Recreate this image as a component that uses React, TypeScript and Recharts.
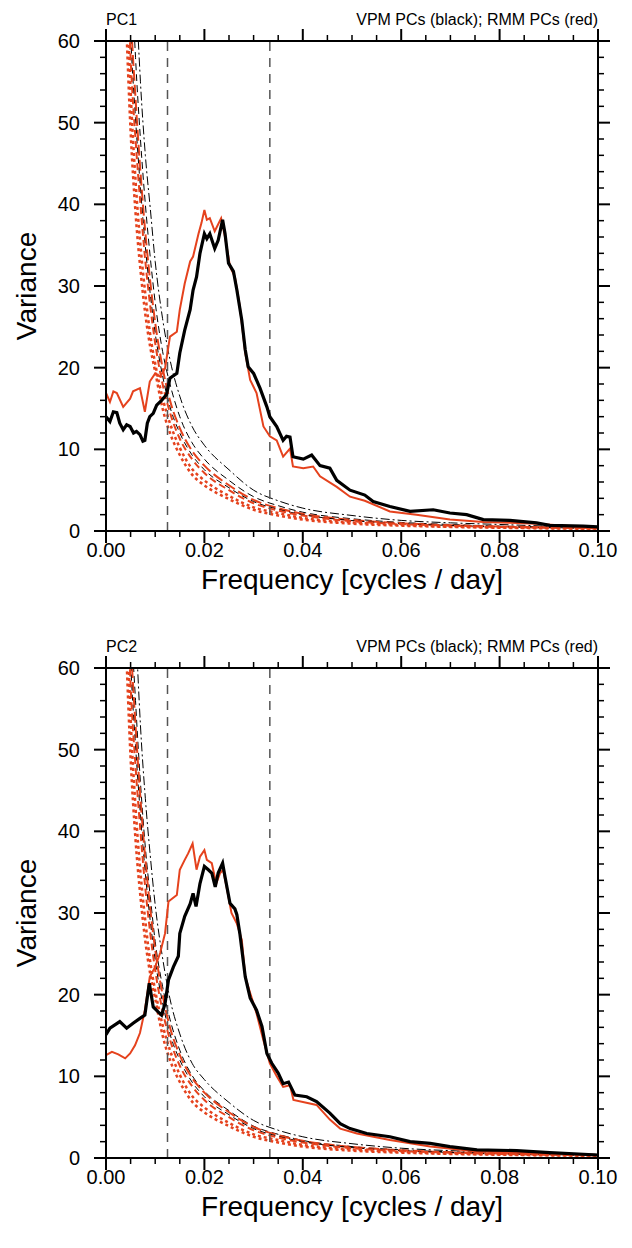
import { LineChart, Line, XAxis, YAxis, ReferenceLine } from 'recharts';

const FONT = '"Liberation Sans", Arial, Helvetica, sans-serif';
const RED = '#e5421d';

// axis ticks
const X_TICKS = [0, 0.005, 0.01, 0.015, 0.02, 0.025, 0.03, 0.035, 0.04, 0.045, 0.05,
  0.055, 0.06, 0.065, 0.07, 0.075, 0.08, 0.085, 0.09, 0.095, 0.1];
const Y_TICKS = [0, 2, 4, 6, 8, 10, 12, 14, 16, 18, 20, 22, 24, 26, 28, 30, 32, 34, 36, 38,
  40, 42, 44, 46, 48, 50, 52, 54, 56, 58, 60];
const PERIOD_LINES = [0.0125, 0.0333]; // 80 and 30 days

// red-noise / confidence curves
const NOISE_F = [0.004, 0.005, 0.006, 0.007, 0.008, 0.009, 0.01, 0.0115, 0.013, 0.015, 0.0175,
  0.02, 0.025, 0.03, 0.035, 0.04, 0.05, 0.06, 0.07, 0.08, 0.09, 0.1];
const UPPER_BLACK_1 = [110, 86, 68, 55, 46, 39.5, 33, 26, 21, 16.5, 12.8, 10.5, 7.5, 5.0, 3.7, 2.8, 1.9, 1.3, 1.0, 0.8, 0.6, 0.5];
const MARKOV_BLACK_1 = [95, 72, 58, 48, 40, 33.5, 28, 22, 18, 14, 10.8, 8.8, 6.2, 4.2, 3.1, 2.3, 1.5, 1.05, 0.8, 0.6, 0.5, 0.4];
const UPPER_BLACK_2 = [105, 82, 66, 53, 44, 37, 31, 24.5, 19.5, 15.2, 11.6, 9.6, 6.8, 4.6, 3.4, 2.6, 1.75, 1.2, 0.9, 0.72, 0.56, 0.45];
const MARKOV_BLACK_2 = [90, 68, 56, 46, 38, 32, 26.5, 21, 17, 13.2, 10.1, 8.2, 5.8, 3.9, 2.9, 2.15, 1.4, 1.0, 0.75, 0.58, 0.46, 0.37];
const UPPER_RED = [84, 64, 53, 44, 36.5, 30.5, 25.5, 20, 16, 12.6, 9.8, 8.0, 5.6, 3.8, 2.8, 2.1, 1.35, 0.95, 0.7, 0.55, 0.45, 0.35];
const LOWER_BLACK = [80, 61, 50.5, 42, 34.8, 29, 24.2, 19, 15.2, 12, 9.3, 7.5, 5.3, 3.6, 2.65, 2.0, 1.28, 0.9, 0.68, 0.52, 0.42, 0.33];
const MARKOV_RED = [76, 58, 48, 40, 33, 27.5, 23, 18, 14.5, 11.3, 8.8, 7.1, 5.0, 3.4, 2.5, 1.9, 1.2, 0.85, 0.65, 0.5, 0.4, 0.32];
const LOWER_RED_A = [72, 54, 43, 35, 29, 24, 20.5, 16.3, 13.2, 10.2, 7.6, 6.2, 4.3, 2.9, 2.2, 1.6, 1.05, 0.75, 0.55, 0.45, 0.36, 0.3];
const LOWER_RED_B = [64, 49, 39, 32, 26.5, 22.5, 19.5, 15, 12, 9.3, 6.9, 5.6, 3.9, 2.6, 1.9, 1.4, 0.9, 0.65, 0.5, 0.4, 0.32, 0.26];

// PC1 spectra
const PC1_VPM_F = [0, 0.0008, 0.0015, 0.0022, 0.0028, 0.0035, 0.0042, 0.0049, 0.0056, 0.0062, 0.0069,
  0.0075, 0.0079, 0.0084, 0.0089, 0.0096, 0.0103, 0.0113, 0.0123, 0.013, 0.0144, 0.015, 0.016,
  0.0171, 0.0177, 0.0184, 0.0191, 0.02, 0.0205, 0.0211, 0.0221, 0.0228, 0.0237, 0.0242, 0.0249,
  0.0259, 0.0266, 0.0276, 0.0283, 0.0289, 0.03, 0.0313, 0.0327, 0.0333, 0.0347, 0.036, 0.0367,
  0.0374, 0.038, 0.0401, 0.0418, 0.0435, 0.0455, 0.0469, 0.0496, 0.0526, 0.0543, 0.0577, 0.0618,
  0.0665, 0.0699, 0.0733, 0.0767, 0.0821, 0.0875, 0.0902, 0.097, 0.1];
const PC1_VPM = [14.0, 13.4, 14.6, 14.5, 13.2, 12.4, 13.0, 12.8, 12.0, 12.2, 11.8,
  11.0, 11.1, 13.2, 14.0, 14.4, 15.4, 16.0, 16.7, 18.7, 19.3, 21.8, 24.6,
  27.1, 29.5, 31.1, 34.0, 36.4, 35.8, 36.4, 34.6, 35.6, 38.1, 36.4, 32.8,
  31.8, 29.5, 25.8, 22.2, 20.1, 19.3, 17.5, 15.2, 14.0, 12.8, 11.1, 11.6,
  11.5, 9.1, 8.8, 9.3, 8.0, 7.7, 6.2, 5.0, 4.4, 3.6, 3.0, 2.4,
  2.6, 2.2, 2.0, 1.4, 1.3, 1.0, 0.7, 0.6, 0.5];
const PC1_RMM_F = [0, 0.0008, 0.0015, 0.0022, 0.0035, 0.0049, 0.0055, 0.0069, 0.0079, 0.0089, 0.01,
  0.011, 0.012, 0.013, 0.0144, 0.015, 0.016, 0.0171, 0.0177, 0.0188, 0.0194, 0.02, 0.0205, 0.0211,
  0.0221, 0.0234, 0.0242, 0.0252, 0.0262, 0.0272, 0.0283, 0.0293, 0.0306, 0.032, 0.0333, 0.0347,
  0.036, 0.0374, 0.038, 0.0401, 0.0421, 0.0435, 0.0469, 0.0496, 0.0526, 0.0577, 0.0631, 0.0699,
  0.0767, 0.0821, 0.0875, 0.097, 0.1];
const PC1_RMM = [16.9, 15.8, 17.1, 16.9, 15.2, 16.2, 17.1, 17.5, 14.6, 18.3, 19.3,
  18.9, 19.9, 23.8, 24.4, 27.1, 30.3, 33.0, 33.6, 36.4, 37.7, 39.3, 38.1, 38.3,
  36.7, 38.3, 36.0, 32.4, 31.1, 27.5, 21.8, 18.5, 16.9, 12.8, 11.6, 11.1,
  9.1, 10.1, 7.9, 7.7, 7.9, 6.7, 5.4, 4.2, 3.7, 2.4, 2.0, 1.4,
  1.1, 1.0, 0.9, 0.5, 0.45];

// PC2 spectra
const PC2_VPM_F = [0, 0.0008, 0.0018, 0.0028, 0.0042, 0.0055, 0.0069, 0.0079, 0.0088, 0.0096, 0.0106,
  0.0113, 0.012, 0.0127, 0.0137, 0.0147, 0.015, 0.016, 0.0171, 0.0177, 0.0183, 0.0191, 0.02,
  0.0208, 0.0215, 0.0222, 0.0228, 0.0237, 0.0242, 0.0252, 0.0262, 0.0266, 0.0272, 0.0283, 0.0293,
  0.0306, 0.0317, 0.0327, 0.0337, 0.035, 0.036, 0.0371, 0.0384, 0.0408, 0.0428, 0.0455, 0.0476,
  0.0496, 0.053, 0.0577, 0.0618, 0.0659, 0.0699, 0.0754, 0.0835, 0.0902, 0.1];
const PC2_VPM = [15.1, 15.9, 16.3, 16.7, 15.9, 16.5, 17.1, 17.5, 21.4, 18.5, 17.9,
  17.5, 18.9, 21.8, 23.4, 24.7, 27.5, 29.6, 31.1, 32.4, 30.8, 33.6, 35.7,
  35.3, 34.9, 33.2, 34.9, 36.1, 34.4, 31.2, 30.5, 29.8, 27.5, 22.2, 19.6,
  18.1, 16.1, 12.8, 11.6, 10.4, 9.1, 9.3, 7.7, 7.5, 6.9, 5.5, 4.2,
  3.6, 3.0, 2.6, 2.0, 1.8, 1.4, 1.0, 0.9, 0.65, 0.37];
const PC2_RMM_F = [0, 0.0012, 0.0025, 0.0039, 0.0049, 0.0059, 0.0069, 0.0079, 0.0089, 0.01, 0.011,
  0.012, 0.0127, 0.0144, 0.015, 0.016, 0.0167, 0.0176, 0.0184, 0.0191, 0.02, 0.0205, 0.0215,
  0.0224, 0.0232, 0.0238, 0.0245, 0.0255, 0.0266, 0.0276, 0.0283, 0.0293, 0.0306, 0.032, 0.0333,
  0.0347, 0.036, 0.0374, 0.0381, 0.0428, 0.0455, 0.0476, 0.051, 0.0577, 0.0659, 0.0754, 0.0848, 0.1];
const PC2_RMM = [12.6, 13.0, 12.7, 12.2, 12.8, 13.8, 15.3, 18.1, 22.2, 23.4, 25.1,
  27.5, 31.4, 32.2, 35.3, 36.5, 37.3, 38.5, 35.3, 36.9, 37.7, 36.5, 36.1,
  33.6, 34.9, 35.3, 33.2, 30.0, 28.7, 26.7, 22.2, 20.2, 17.7, 14.4, 11.6,
  10.0, 8.7, 8.9, 7.1, 6.5, 4.7, 3.6, 3.0, 2.2, 1.4, 0.8, 0.65, 0.37];

const pts = (fs: number[], vs: number[]) => fs.map((f, i) => ({ f, v: vs[i] }));

const isMajorX = (v: number) => Math.round(v * 1000) % 20 === 0;
const isMajorY = (v: number) => Math.round(v) % 10 === 0;

function BottomTick({ x, y, payload }: any) {
  const major = isMajorX(payload.value);
  return (
    <g>
      <line x1={x} y1={y} x2={x} y2={y + (major ? 12 : 6)} stroke="#000" strokeWidth={major ? 2 : 1.5} />
      {major && (
        <text x={x} y={y + 26} textAnchor="middle" fontSize={20} fill="#000">
          {payload.value.toFixed(2)}
        </text>
      )}
    </g>
  );
}

function TopTick({ x, y, payload }: any) {
  const major = isMajorX(payload.value);
  return <line x1={x} y1={y} x2={x} y2={y - (major ? 12 : 6)} stroke="#000" strokeWidth={major ? 2 : 1.5} />;
}

function LeftTick({ x, y, payload }: any) {
  const major = isMajorY(payload.value);
  return (
    <g>
      <line x1={x} y1={y} x2={x - (major ? 12 : 6)} y2={y} stroke="#000" strokeWidth={major ? 2 : 1.5} />
      {major && (
        <text x={x - 26} y={y + 7} textAnchor="end" fontSize={20} fill="#000">
          {payload.value}
        </text>
      )}
    </g>
  );
}

function RightTick({ x, y, payload }: any) {
  const major = isMajorY(payload.value);
  return <line x1={x} y1={y} x2={x + (major ? 12 : 6)} y2={y} stroke="#000" strokeWidth={major ? 2 : 1.5} />;
}

interface PanelProps {
  top: number;
  name: string;
  vpm: { f: number; v: number }[];
  rmm: { f: number; v: number }[];
  upperBlack: number[];
  markovBlack: number[];
}

function Panel({ top, name, vpm, rmm, upperBlack, markovBlack }: PanelProps) {
  const topH = top === 0 ? 41 : 44;
  const plotTop = top + topH;
  const plotBottom = plotTop + 490;
  const noise = [
    { key: 'ub', vals: upperBlack, stroke: '#000', w: 1, dash: '9 3 2 3' },
    { key: 'mb', vals: markovBlack, stroke: '#000', w: 1, dash: '7 4' },
    { key: 'ur', vals: UPPER_RED, stroke: RED, w: 2, dash: '11 4' },
    { key: 'lb', vals: LOWER_BLACK, stroke: '#000', w: 1, dash: '6 4' },
    { key: 'mr', vals: MARKOV_RED, stroke: RED, w: 2, dash: '7 4' },
    { key: 'la', vals: LOWER_RED_A, stroke: RED, w: 2.5, dash: '3 3' },
    { key: 'lr', vals: LOWER_RED_B, stroke: RED, w: 2.5, dash: '3 3' },
  ];
  return (
    <>
      <div style={{ position: 'absolute', left: 106, top: plotTop - 30, fontSize: 16, lineHeight: '18px' }}>{name}</div>
      <div style={{ position: 'absolute', right: 632 - 598, top: plotTop - 30, fontSize: 16, lineHeight: '18px', whiteSpace: 'nowrap' }}>
        VPM PCs (black); RMM PCs (red)
      </div>
      <div style={{ position: 'absolute', left: 27, top: (plotTop + plotBottom) / 2, width: 0, height: 0 }}>
        <div style={{ position: 'absolute', transform: 'translate(-50%, -50%) rotate(-90deg)', fontSize: 28, whiteSpace: 'nowrap' }}>
          Variance
        </div>
      </div>
      <div style={{ position: 'absolute', left: 352, top: plotBottom + 49, width: 0, height: 0 }}>
        <div style={{ position: 'absolute', transform: 'translate(-50%, -50%)', fontSize: 28, lineHeight: '30px', whiteSpace: 'nowrap' }}>
          Frequency [cycles / day]
        </div>
      </div>
      <div style={{ position: 'absolute', left: 0, top }}>
        <LineChart width={632} height={624} margin={{ top: 0, right: 0, bottom: 0, left: 0 }}>
          <XAxis xAxisId="b" dataKey="f" type="number" domain={[0, 0.1]} ticks={X_TICKS} interval={0}
            allowDataOverflow orientation="bottom" height={624 - topH - 490} tickSize={0} tickMargin={0}
            tickLine={false} tick={<BottomTick />} axisLine={{ stroke: '#000', strokeWidth: 2 }} />
          <XAxis xAxisId="t" dataKey="f" type="number" domain={[0, 0.1]} ticks={X_TICKS} interval={0}
            allowDataOverflow orientation="top" height={topH} tickSize={0} tickMargin={0}
            tickLine={false} tick={<TopTick />} axisLine={{ stroke: '#000', strokeWidth: 2 }} />
          <YAxis yAxisId="l" type="number" domain={[0, 60]} ticks={Y_TICKS} interval={0}
            allowDataOverflow orientation="left" width={106} tickSize={0} tickMargin={0}
            tickLine={false} tick={<LeftTick />} axisLine={{ stroke: '#000', strokeWidth: 2 }} />
          <YAxis yAxisId="r" type="number" domain={[0, 60]} ticks={Y_TICKS} interval={0}
            allowDataOverflow orientation="right" width={34} tickSize={0} tickMargin={0}
            tickLine={false} tick={<RightTick />} axisLine={{ stroke: '#000', strokeWidth: 2 }} />
          {noise.map(n => (
            <Line key={n.key} xAxisId="b" yAxisId="l" data={pts(NOISE_F, n.vals)} dataKey="v" type="monotone"
              stroke={n.stroke} strokeWidth={n.w} strokeDasharray={n.dash} dot={false} activeDot={false}
              isAnimationActive={false} />
          ))}
          {PERIOD_LINES.map(p => (
            <ReferenceLine key={p} xAxisId="b" yAxisId="l" x={p} stroke="#555" strokeWidth={1.5} strokeDasharray="9 7" />
          ))}
          <Line xAxisId="b" yAxisId="l" data={rmm} dataKey="v" type="linear" stroke={RED} strokeWidth={2}
            dot={false} activeDot={false} isAnimationActive={false} />
          <Line xAxisId="b" yAxisId="l" data={vpm} dataKey="v" type="linear" stroke="#000" strokeWidth={3.2}
            dot={false} activeDot={false} isAnimationActive={false} />
        </LineChart>
      </div>
    </>
  );
}

export default function App() {
  return (
    <div style={{ position: 'absolute', left: 0, top: 0, width: 632, height: 1248, background: '#fff', fontFamily: FONT, color: '#000' }}>
      <Panel top={0} name="PC1" vpm={pts(PC1_VPM_F, PC1_VPM)} rmm={pts(PC1_RMM_F, PC1_RMM)}
        upperBlack={UPPER_BLACK_1} markovBlack={MARKOV_BLACK_1} />
      <Panel top={624} name="PC2" vpm={pts(PC2_VPM_F, PC2_VPM)} rmm={pts(PC2_RMM_F, PC2_RMM)}
        upperBlack={UPPER_BLACK_2} markovBlack={MARKOV_BLACK_2} />
    </div>
  );
}
